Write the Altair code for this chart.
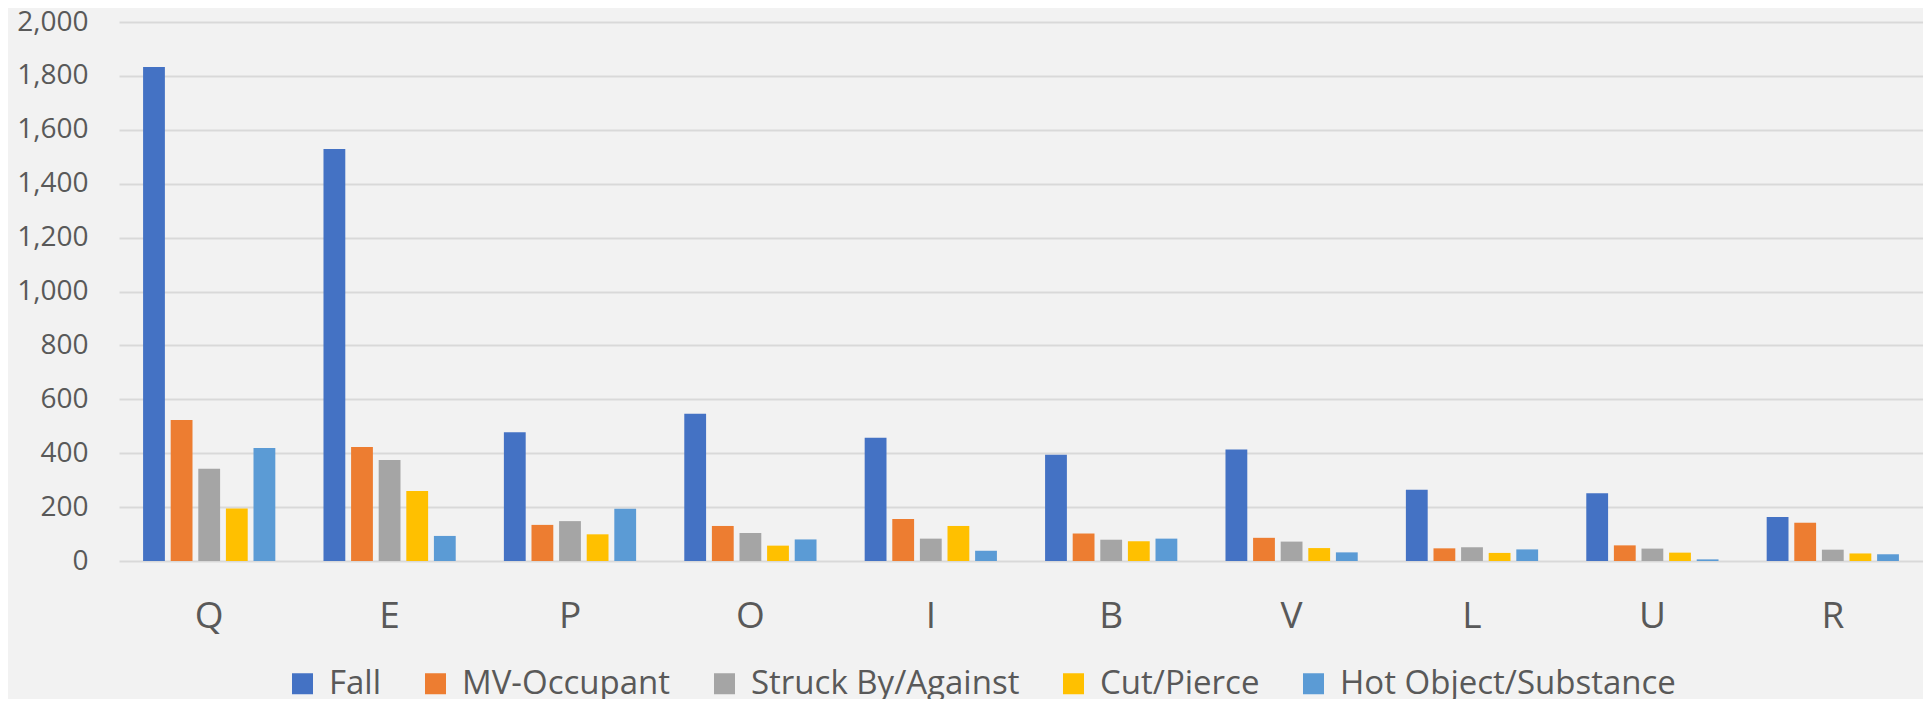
import altair as alt
import pandas as pd

categories = ["Q", "E", "P", "O", "I", "B", "V", "L", "U", "R"]
series = ["Fall", "MV-Occupant", "Struck By/Against", "Cut/Pierce", "Hot Object/Substance"]
colors = ["#4472C4", "#ED7D31", "#A5A5A5", "#FFC000", "#5B9BD5"]

fall = [1833, 1529, 478, 546, 457, 394, 414, 264, 251, 163]
mv_occupant = [523, 423, 134, 130, 156, 102, 86, 47, 58, 142]
struck = [342, 375, 148, 104, 83, 79, 72, 51, 46, 42]
cut_pierce = [195, 260, 99, 57, 130, 73, 48, 30, 31, 28]
hot_object = [419, 93, 194, 80, 38, 83, 32, 43, 6, 25]

y_ticks = list(range(0, 2001, 200))

all_values = [fall, mv_occupant, struck, cut_pierce, hot_object]
rows = []
for i, c in enumerate(categories):
    for s, vals in zip(series, all_values):
        rows.append({"cat": c, "series": s, "value": vals[i]})
df = pd.DataFrame(rows)

FONT = "Open Sans"
TXT = "#595959"

chart = alt.Chart(df).mark_bar().encode(
    x=alt.X(
        "cat:N",
        sort=categories,
        scale=alt.Scale(paddingInner=0.267, paddingOuter=0.1335),
        axis=alt.Axis(
            title=None, labelAngle=0, ticks=False, domain=False, grid=False,
            labelFontSize=37, labelFont=FONT, labelColor=TXT,
            labelPadding=66, labelBaseline="alphabetic",
        ),
    ),
    xOffset=alt.XOffset(
        "series:N", sort=series,
        scale=alt.Scale(paddingInner=0.21, paddingOuter=0),
    ),
    y=alt.Y(
        "value:Q",
        scale=alt.Scale(domain=[0, 2000], nice=False),
        axis=alt.Axis(
            title=None, values=y_ticks, format=",d", ticks=False, domain=False,
            grid=True, gridColor="#D9D9D9", gridWidth=2,
            labelFontSize=28, labelFont=FONT, labelColor=TXT, labelPadding=31,
        ),
    ),
    color=alt.Color(
        "series:N", sort=series,
        scale=alt.Scale(domain=series, range=colors),
        legend=alt.Legend(
            orient="none", legendX=167, legendY=645, direction="horizontal",
            title=None, symbolType="square", symbolSize=441, symbolStrokeWidth=0,
            labelFontSize=33, labelFont=FONT, labelColor=TXT, labelOffset=10,
            labelLimit=0, columnPadding=37, padding=0,
        ),
    ),
).properties(
    width=1804, height=539,
    padding={"left": 111, "top": 14, "right": 0, "bottom": 138},
    autosize="none",
    background="#F2F2F2",
).configure_view(stroke=None)

chart.save("out.html", embed_options={"renderer": "svg", "actions": False})
